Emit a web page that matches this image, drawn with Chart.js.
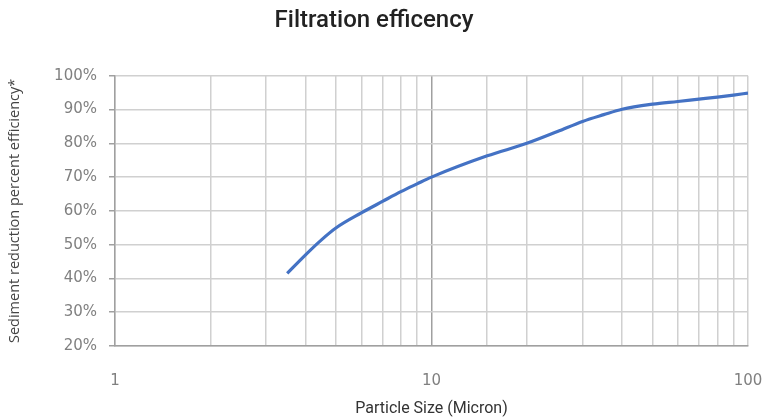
<!DOCTYPE html>
<html>
<head>
<meta charset="utf-8">
<script src="https://cdn.jsdelivr.net/npm/chart.js@4.4.1/dist/chart.umd.min.js"></script>
<style>
  html, body { margin: 0; padding: 0; background: #fff; }
  #wrap { width: 768px; height: 419px; }
</style>
</head>
<body>
<div id="wrap"><canvas id="myChart"></canvas></div>
<script>
// particle size (micron) and reduction efficiency (%)
const sizes = [3.5, 4, 4.5, 5, 6, 7, 8, 9, 10, 15, 20, 25, 30, 35, 40, 50, 60, 70, 80, 90, 100];
const efficiency = [41.5, 47, 51.5, 55, 59.4, 62.8, 65.7, 68, 70, 76.3, 80, 83.5, 86.5, 88.5, 90.1, 91.6, 92.4, 93.1, 93.7, 94.3, 94.9];
const xLabels = [1, 10, 100];

const points = sizes.map((s, i) => ({ x: s, y: efficiency[i] }));

const ctx = document.getElementById('myChart');

new Chart(ctx, {
    type: 'scatter',
    data: {
        datasets: [{
            label: 'Efficiency',
            data: points,
            showLine: true,
            borderColor: '#4472C4',
            borderWidth: 3.2,
            pointRadius: 0,
            cubicInterpolationMode: 'monotone',
            fill: false
        }]
    },
    options: {
        responsive: true,
        maintainAspectRatio: false,
        animation: false,
        layout: { padding: { left: 0, right: 20, top: 0, bottom: 0 } },
        plugins: {
            legend: { display: false },
            tooltip: { enabled: false },
            title: {
                display: true,
                text: 'Filtration efficency',
                color: '#222',
                font: { family: 'Roboto', size: 24, weight: '500' },
                padding: { top: 7, bottom: 40 }
            }
        },
        scales: {
            x: {
                type: 'logarithmic',
                min: 1,
                max: 100,
                afterFit: (scale) => {
                    scale.height = 73;
                    scale.paddingLeft = 0;
                    scale.paddingRight = 0;
                },
                border: { color: '#a0a0a0', width: 1.5 },
                grid: {
                    drawTicks: false,
                    lineWidth: 1.5,
                    color: (c) => (c.tick && c.tick.value === 10) ? '#a0a0a0' : '#d0d0d0'
                },
                ticks: {
                    autoSkip: false,
                    maxRotation: 0,
                    padding: 26,
                    color: '#808080',
                    font: { family: 'DejaVu Sans', size: 15 },
                    callback: (v) => xLabels.includes(v) ? String(v) : ''
                },
                title: {
                    display: true,
                    text: 'Particle Size (Micron)',
                    color: '#333',
                    font: { family: 'Roboto', size: 16 },
                    padding: { top: 0, bottom: 0 }
                }
            },
            y: {
                min: 20,
                max: 100,
                afterFit: (scale) => { scale.width = 115; },
                border: { color: '#a0a0a0', width: 1.5 },
                grid: {
                    lineWidth: 1.5,
                    color: '#d0d0d0',
                    tickColor: '#a0a0a0',
                    tickLength: 6
                },
                ticks: {
                    stepSize: 10,
                    padding: 12,
                    color: '#808080',
                    font: { family: 'DejaVu Sans', size: 15 },
                    callback: (v) => v + '%'
                },
                title: {
                    display: true,
                    text: 'Sediment reduction percent efficiency*',
                    color: '#444',
                    font: { family: 'Open Sans', size: 14.5 },
                    padding: { top: 6, bottom: 0 }
                }
            }
        }
    }
});
</script>
</body>
</html>
